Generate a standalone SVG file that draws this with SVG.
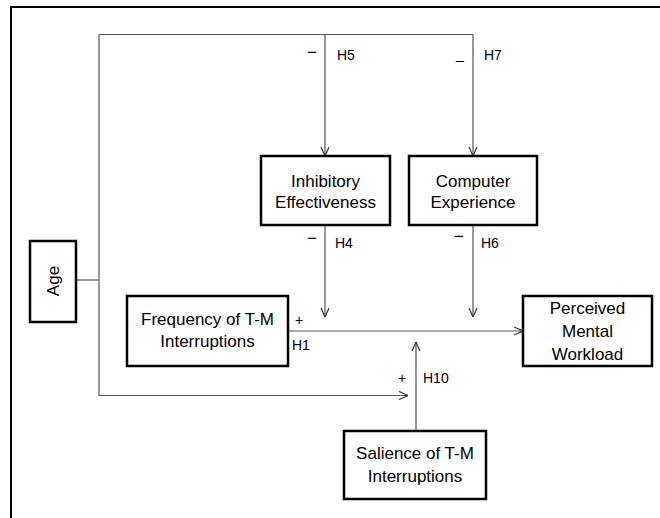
<svg xmlns="http://www.w3.org/2000/svg" width="660" height="518" viewBox="0 0 660 518">
  <style>
    .box { fill: #ffffff; stroke: #000000; stroke-width: 2.5; }
    .frame { fill: none; stroke: #000000; stroke-width: 2; }
    .link { fill: none; stroke: #555555; stroke-width: 1.2; }
    .node-text { font-family: "Liberation Sans", Arial, sans-serif; font-size: 17px; fill: #000000; text-anchor: middle; }
    .label { font-family: "Liberation Sans", Arial, sans-serif; font-size: 14px; fill: #000000; }
    .sign { font-family: "Liberation Sans", Arial, sans-serif; font-size: 17px; fill: #000000; }
  </style>
  <defs>
    <marker id="arrow" viewBox="0 0 10 10" refX="10" refY="5" markerWidth="10" markerHeight="10" markerUnits="userSpaceOnUse" orient="auto">
      <path d="M1,1 L10,5 L1,9" fill="none" stroke="#333333" stroke-width="1.2"/>
    </marker>
  </defs>

  <rect width="660" height="518" fill="#ffffff"/>
  <!-- outer frame (top and left edges) -->
  <path class="frame" d="M11,520 L11,7 L662,7"/>

  <g id="connectors">
    <!-- Age loop -->
    <path class="link" d="M76,280 L99,280"/>
    <path class="link" d="M99,34.5 L473,34.5"/>
    <path class="link" d="M99,34.5 L99,395.5 L408,395.5" marker-end="url(#arrow)"/>
    <!-- H5, H7 -->
    <path class="link" d="M325,34.5 L325,156" marker-end="url(#arrow)"/>
    <path class="link" d="M473,34.5 L473,156" marker-end="url(#arrow)"/>
    <!-- H4, H6 -->
    <path class="link" d="M325,225 L325,317" marker-end="url(#arrow)"/>
    <path class="link" d="M473,225 L473,317" marker-end="url(#arrow)"/>
    <!-- H1 -->
    <path class="link" d="M288,331 L523,331" marker-end="url(#arrow)"/>
    <!-- H10 -->
    <path class="link" d="M416,431 L416,342" marker-end="url(#arrow)"/>
  </g>

  <g id="age">
    <rect class="box" x="30" y="241" width="46" height="81"/>
    <text class="node-text" transform="translate(59,281) rotate(-90)">Age</text>
  </g>

  <g id="inhibitory-effectiveness">
    <rect class="box" x="261" y="156" width="129" height="69"/>
    <text class="node-text" x="325.5" y="187">Inhibitory</text>
    <text class="node-text" x="325.5" y="208">Effectiveness</text>
  </g>

  <g id="computer-experience">
    <rect class="box" x="409" y="156" width="128" height="69"/>
    <text class="node-text" x="473" y="187">Computer</text>
    <text class="node-text" x="473" y="208">Experience</text>
  </g>

  <g id="frequency">
    <rect class="box" x="127" y="296" width="161" height="70"/>
    <text class="node-text" x="207.5" y="325">Frequency of T-M</text>
    <text class="node-text" x="207.5" y="347">Interruptions</text>
  </g>

  <g id="perceived-mental-workload">
    <rect class="box" x="523" y="296" width="129" height="70"/>
    <text class="node-text" x="587.5" y="314">Perceived</text>
    <text class="node-text" x="587.5" y="337">Mental</text>
    <text class="node-text" x="587.5" y="360">Workload</text>
  </g>

  <g id="salience">
    <rect class="box" x="344" y="431" width="142" height="68"/>
    <text class="node-text" x="415" y="459">Salience of T-M</text>
    <text class="node-text" x="415" y="482">Interruptions</text>
  </g>

  <g id="labels">
    <text class="sign" x="307" y="58">−</text>
    <text class="label" x="337" y="60">H5</text>
    <text class="label" x="456" y="59">_</text>
    <text class="label" x="484" y="60">H7</text>
    <text class="sign" x="307" y="244">−</text>
    <text class="label" x="335" y="248">H4</text>
    <text class="sign" x="454" y="242">−</text>
    <text class="label" x="481" y="248">H6</text>
    <text class="label" x="295" y="325">+</text>
    <text class="label" x="292" y="350">H1</text>
    <text class="label" x="398" y="383">+</text>
    <text class="label" x="423" y="383">H10</text>
  </g>
</svg>
